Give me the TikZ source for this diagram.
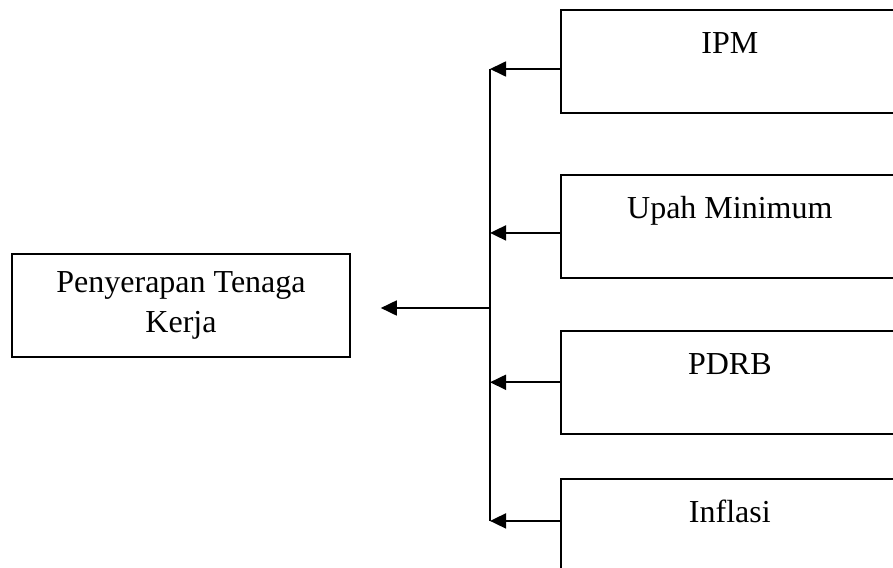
\documentclass[tikz,border=0pt]{standalone}
\usepackage{fontspec}
\setmainfont{Liberation Serif}
\usetikzlibrary{arrows.meta,calc}

\tikzset{
    target/.style={draw, line width=0.6pt, minimum width=126.75pt, minimum height=38.6pt,
        align=center, font=\fontsize{12}{15}\selectfont},
    factor/.style={draw, line width=0.6pt, anchor=north west, inner sep=0pt,
        minimum width=126.75pt, text height=16.4pt, text depth=22.2pt,
        font=\fontsize{12}{15}\selectfont},
    link/.style={-{Triangle[length=6pt,width=5.6pt]}, line width=0.75pt}
}

\begin{document}
\begin{tikzpicture}[x=0.375pt, y=-0.375pt]
    \useasboundingbox (0,0) rectangle (893,567);
    \clip (0,0) rectangle (893,567);

    % Dependent variable
    \node[target] (kerja) at (181,305.5) {Penyerapan Tenaga\\Kerja};

    % Independent variables
    \node[factor] (ipm) at (560,9) {IPM};
    \node[factor] (upah) at (560,174) {Upah Minimum};
    \node[factor] (pdrb) at (560,330) {PDRB};
    \node[factor] (inflasi) at (560,478) {Inflasi};

    % Collecting line
    \coordinate (bus) at (490,308);
    \draw[line width=0.75pt] ([yshift=-2.9pt]ipm.west -| bus) -- ([yshift=3.5pt]inflasi.west -| bus);

    % Arrows into the collecting line
    \foreach \src/\dy in {ipm/-2.9pt, upah/-2.5pt, pdrb/0pt, inflasi/3.5pt}
        \draw[link] ([yshift=\dy]\src.west) -- ([yshift=\dy]\src.west -| bus);

    % Arrow to the dependent variable
    \draw[link, shorten >=11.25pt] (bus) -- (bus -| kerja.east);
\end{tikzpicture}
\end{document}
